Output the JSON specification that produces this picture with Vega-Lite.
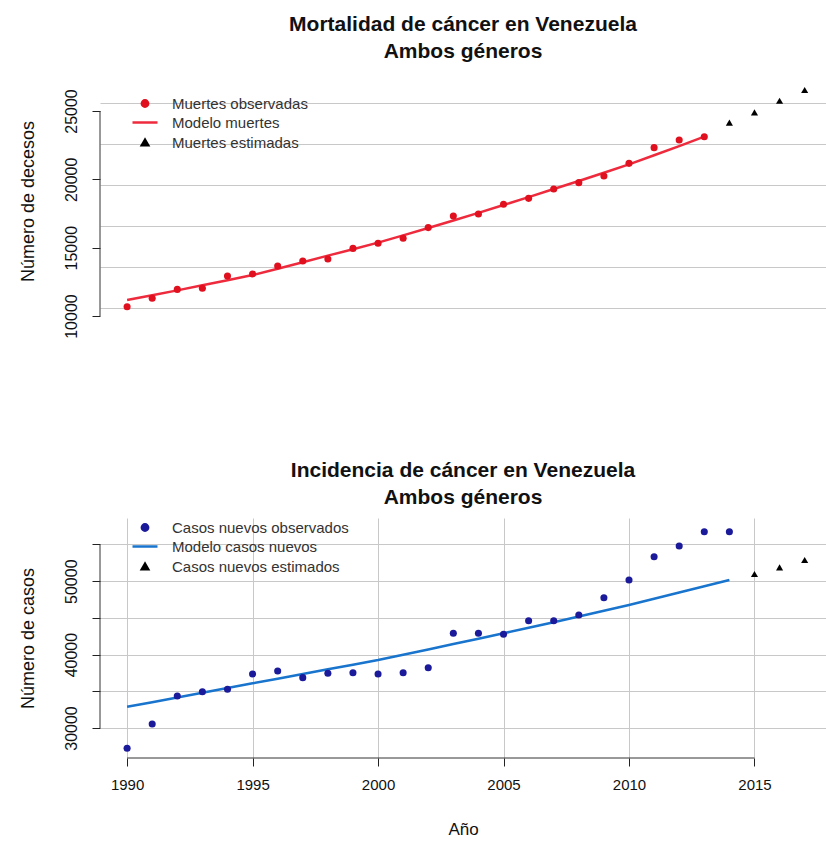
{
  "$schema": "https://vega.github.io/schema/vega-lite/v6.json",
  "background": "white",
  "padding": {"left": 18, "top": 14, "right": 0, "bottom": 0},
  "config": {
    "font": "Liberation Sans",
    "view": {"stroke": null},
    "axis": {"gridColor": "#c8c8c8", "gridWidth": 1, "gridOpacity": 1, "tickColor": "#222", "tickSize": 8, "tickWidth": 1, "labelColor": "#111", "labelFontSize": 15, "titleFontSize": 18, "titleFontWeight": "normal", "titleColor": "#111", "domain": false},
    "title": {"fontSize": 21, "fontWeight": "bold", "color": "#111", "lineHeight": 27, "anchor": "middle", "frame": "group", "baseline": "bottom"},
    "legend": {"padding": 0, "labelFontSize": 15, "labelColor": "#333", "rowPadding": 3, "labelLimit": 400}
  },
  "datasets": {
    "mortalidad": [
      {"anio": 1990, "valor": 10680, "serie": "Muertes observadas"},
      {"anio": 1991, "valor": 11300, "serie": "Muertes observadas"},
      {"anio": 1992, "valor": 11950, "serie": "Muertes observadas"},
      {"anio": 1993, "valor": 12030, "serie": "Muertes observadas"},
      {"anio": 1994, "valor": 12930, "serie": "Muertes observadas"},
      {"anio": 1995, "valor": 13080, "serie": "Muertes observadas"},
      {"anio": 1996, "valor": 13660, "serie": "Muertes observadas"},
      {"anio": 1997, "valor": 14030, "serie": "Muertes observadas"},
      {"anio": 1998, "valor": 14170, "serie": "Muertes observadas"},
      {"anio": 1999, "valor": 14950, "serie": "Muertes observadas"},
      {"anio": 2000, "valor": 15320, "serie": "Muertes observadas"},
      {"anio": 2001, "valor": 15690, "serie": "Muertes observadas"},
      {"anio": 2002, "valor": 16470, "serie": "Muertes observadas"},
      {"anio": 2003, "valor": 17320, "serie": "Muertes observadas"},
      {"anio": 2004, "valor": 17470, "serie": "Muertes observadas"},
      {"anio": 2005, "valor": 18180, "serie": "Muertes observadas"},
      {"anio": 2006, "valor": 18610, "serie": "Muertes observadas"},
      {"anio": 2007, "valor": 19290, "serie": "Muertes observadas"},
      {"anio": 2008, "valor": 19760, "serie": "Muertes observadas"},
      {"anio": 2009, "valor": 20250, "serie": "Muertes observadas"},
      {"anio": 2010, "valor": 21170, "serie": "Muertes observadas"},
      {"anio": 2011, "valor": 22320, "serie": "Muertes observadas"},
      {"anio": 2012, "valor": 22880, "serie": "Muertes observadas"},
      {"anio": 2013, "valor": 23120, "serie": "Muertes observadas"},
      {"anio": 1990, "valor": 11170, "serie": "Modelo muertes"},
      {"anio": 1991, "valor": 11520, "serie": "Modelo muertes"},
      {"anio": 1992, "valor": 11880, "serie": "Modelo muertes"},
      {"anio": 1993, "valor": 12250, "serie": "Modelo muertes"},
      {"anio": 1994, "valor": 12620, "serie": "Modelo muertes"},
      {"anio": 1995, "valor": 13000, "serie": "Modelo muertes"},
      {"anio": 1996, "valor": 13460, "serie": "Modelo muertes"},
      {"anio": 1997, "valor": 13930, "serie": "Modelo muertes"},
      {"anio": 1998, "valor": 14420, "serie": "Modelo muertes"},
      {"anio": 1999, "valor": 14890, "serie": "Modelo muertes"},
      {"anio": 2000, "valor": 15370, "serie": "Modelo muertes"},
      {"anio": 2001, "valor": 15900, "serie": "Modelo muertes"},
      {"anio": 2002, "valor": 16440, "serie": "Modelo muertes"},
      {"anio": 2003, "valor": 16990, "serie": "Modelo muertes"},
      {"anio": 2004, "valor": 17550, "serie": "Modelo muertes"},
      {"anio": 2005, "valor": 18120, "serie": "Modelo muertes"},
      {"anio": 2006, "valor": 18700, "serie": "Modelo muertes"},
      {"anio": 2007, "valor": 19290, "serie": "Modelo muertes"},
      {"anio": 2008, "valor": 19880, "serie": "Modelo muertes"},
      {"anio": 2009, "valor": 20480, "serie": "Modelo muertes"},
      {"anio": 2010, "valor": 21100, "serie": "Modelo muertes"},
      {"anio": 2011, "valor": 21760, "serie": "Modelo muertes"},
      {"anio": 2012, "valor": 22430, "serie": "Modelo muertes"},
      {"anio": 2013, "valor": 23120, "serie": "Modelo muertes"},
      {"anio": 2014, "valor": 24150, "serie": "Muertes estimadas"},
      {"anio": 2015, "valor": 24900, "serie": "Muertes estimadas"},
      {"anio": 2016, "valor": 25750, "serie": "Muertes estimadas"},
      {"anio": 2017, "valor": 26540, "serie": "Muertes estimadas"}
    ],
    "incidencia": [
      {"anio": 1990, "valor": 27230, "serie": "Casos nuevos observados"},
      {"anio": 1991, "valor": 30550, "serie": "Casos nuevos observados"},
      {"anio": 1992, "valor": 34360, "serie": "Casos nuevos observados"},
      {"anio": 1993, "valor": 34950, "serie": "Casos nuevos observados"},
      {"anio": 1994, "valor": 35270, "serie": "Casos nuevos observados"},
      {"anio": 1995, "valor": 37360, "serie": "Casos nuevos observados"},
      {"anio": 1996, "valor": 37770, "serie": "Casos nuevos observados"},
      {"anio": 1997, "valor": 36860, "serie": "Casos nuevos observados"},
      {"anio": 1998, "valor": 37450, "serie": "Casos nuevos observados"},
      {"anio": 1999, "valor": 37530, "serie": "Casos nuevos observados"},
      {"anio": 2000, "valor": 37360, "serie": "Casos nuevos observados"},
      {"anio": 2001, "valor": 37530, "serie": "Casos nuevos observados"},
      {"anio": 2002, "valor": 38220, "serie": "Casos nuevos observados"},
      {"anio": 2003, "valor": 42900, "serie": "Casos nuevos observados"},
      {"anio": 2004, "valor": 42900, "serie": "Casos nuevos observados"},
      {"anio": 2005, "valor": 42770, "serie": "Casos nuevos observados"},
      {"anio": 2006, "valor": 44620, "serie": "Casos nuevos observados"},
      {"anio": 2007, "valor": 44620, "serie": "Casos nuevos observados"},
      {"anio": 2008, "valor": 45400, "serie": "Casos nuevos observados"},
      {"anio": 2009, "valor": 47750, "serie": "Casos nuevos observados"},
      {"anio": 2010, "valor": 50160, "serie": "Casos nuevos observados"},
      {"anio": 2011, "valor": 53340, "serie": "Casos nuevos observados"},
      {"anio": 2012, "valor": 54800, "serie": "Casos nuevos observados"},
      {"anio": 2013, "valor": 56740, "serie": "Casos nuevos observados"},
      {"anio": 2014, "valor": 56740, "serie": "Casos nuevos observados"},
      {"anio": 1990, "valor": 32900, "serie": "Modelo casos nuevos"},
      {"anio": 1991, "valor": 33520, "serie": "Modelo casos nuevos"},
      {"anio": 1992, "valor": 34150, "serie": "Modelo casos nuevos"},
      {"anio": 1993, "valor": 34790, "serie": "Modelo casos nuevos"},
      {"anio": 1994, "valor": 35440, "serie": "Modelo casos nuevos"},
      {"anio": 1995, "valor": 36090, "serie": "Modelo casos nuevos"},
      {"anio": 1996, "valor": 36720, "serie": "Modelo casos nuevos"},
      {"anio": 1997, "valor": 37360, "serie": "Modelo casos nuevos"},
      {"anio": 1998, "valor": 38000, "serie": "Modelo casos nuevos"},
      {"anio": 1999, "valor": 38630, "serie": "Modelo casos nuevos"},
      {"anio": 2000, "valor": 39260, "serie": "Modelo casos nuevos"},
      {"anio": 2001, "valor": 39980, "serie": "Modelo casos nuevos"},
      {"anio": 2002, "valor": 40700, "serie": "Modelo casos nuevos"},
      {"anio": 2003, "valor": 41440, "serie": "Modelo casos nuevos"},
      {"anio": 2004, "valor": 42170, "serie": "Modelo casos nuevos"},
      {"anio": 2005, "valor": 42900, "serie": "Modelo casos nuevos"},
      {"anio": 2006, "valor": 43660, "serie": "Modelo casos nuevos"},
      {"anio": 2007, "valor": 44420, "serie": "Modelo casos nuevos"},
      {"anio": 2008, "valor": 45200, "serie": "Modelo casos nuevos"},
      {"anio": 2009, "valor": 45980, "serie": "Modelo casos nuevos"},
      {"anio": 2010, "valor": 46760, "serie": "Modelo casos nuevos"},
      {"anio": 2011, "valor": 47600, "serie": "Modelo casos nuevos"},
      {"anio": 2012, "valor": 48450, "serie": "Modelo casos nuevos"},
      {"anio": 2013, "valor": 49300, "serie": "Modelo casos nuevos"},
      {"anio": 2014, "valor": 50160, "serie": "Modelo casos nuevos"},
      {"anio": 2015, "valor": 50980, "serie": "Casos nuevos estimados"},
      {"anio": 2016, "valor": 51890, "serie": "Casos nuevos estimados"},
      {"anio": 2017, "valor": 52890, "serie": "Casos nuevos estimados"}
    ]
  },
  "spacing": 196,
  "bounds": "flush",
  "resolve": {
    "scale": {"color": "independent", "shape": "independent"},
    "legend": {"color": "independent", "shape": "independent"}
  },
  "vconcat": [
    {
      "width": 726,
      "height": 242,
      "title": {"text": ["Mortalidad de cáncer en Venezuela", "Ambos géneros"], "offset": 18},
      "data": {"name": "mortalidad"},
      "resolve": {"axis": {"y": "independent"}},
      "layer": [
        {
          "transform": [{"filter": "datum.serie === 'Modelo muertes'"}],
          "mark": {"type": "line", "strokeWidth": 2.5},
          "encoding": {
            "x": {"field": "anio", "type": "quantitative", "scale": {"domain": [1988.92, 2017.85], "nice": false, "zero": false},
                  "axis": {"values": [1990, 1995, 2000, 2005, 2010, 2015], "grid": true, "labels": false, "ticks": false, "domain": false, "title": null}},
            "y": {"field": "valor", "type": "quantitative", "scale": {"domain": [9565, 27268], "nice": false, "zero": false},
                  "axis": {"orient": "left", "values": [10000, 15000, 20000, 25000], "format": "d", "grid": false, "labelAngle": -90, "labelAlign": "center", "labelBaseline": "alphabetic", "labelPadding": 16, "labelFontSize": 16, "labelOverlap": false, "labelFlush": false, "title": "Número de decesos", "titlePadding": 26}},
            "color": {"field": "serie", "type": "nominal",
                      "scale": {"domain": ["Muertes observadas", "Modelo muertes", "Muertes estimadas"], "range": ["#E0101E", "#EE2A3C", "#000000"]},
                      "legend": {"title": null, "orient": "none", "legendX": 37.5, "legendY": 16, "symbolSize": 40, "labelOffset": 19.5,
                                 "encode": {"symbols": {"update": {"size": {"signal": "datum.value === 'Modelo muertes' ? 625 : 40"}, "stroke": {"signal": "datum.value === 'Modelo muertes' ? '#EE2A3C' : 'transparent'"}, "strokeWidth": {"value": 2.5}, "opacity": {"value": 1}}}}}}
          }
        },
        {
          "transform": [{"filter": "datum.serie !== 'Modelo muertes'"}],
          "mark": {"type": "point", "filled": true, "opacity": 1, "size": 50},
          "encoding": {
            "x": {"field": "anio", "type": "quantitative"},
            "y": {"field": "valor", "type": "quantitative",
                  "axis": {"orient": "right", "values": [10585, 13585, 16585, 19585, 22585, 25585], "grid": true, "labels": false, "ticks": false, "domain": false, "title": null}},
            "color": {"field": "serie", "type": "nominal",
                      "scale": {"domain": ["Muertes observadas", "Modelo muertes", "Muertes estimadas"], "range": ["#E0101E", "#EE2A3C", "#000000"]},
                      "legend": {"title": null, "orient": "none", "legendX": 37.5, "legendY": 16, "symbolSize": 40, "labelOffset": 19.5,
                                 "encode": {"symbols": {"update": {"size": {"signal": "datum.value === 'Modelo muertes' ? 625 : 40"}, "stroke": {"signal": "datum.value === 'Modelo muertes' ? '#EE2A3C' : 'transparent'"}, "strokeWidth": {"value": 2.5}, "opacity": {"value": 1}}}}}},
            "shape": {"field": "serie", "type": "nominal",
                      "scale": {"domain": ["Muertes observadas", "Modelo muertes", "Muertes estimadas"], "range": ["circle", "stroke", "triangle-up"]},
                      "legend": {"title": null, "orient": "none", "legendX": 37.5, "legendY": 16, "symbolSize": 40, "labelOffset": 19.5,
                                 "encode": {"symbols": {"update": {"size": {"signal": "datum.value === 'Modelo muertes' ? 625 : 40"}, "stroke": {"signal": "datum.value === 'Modelo muertes' ? '#EE2A3C' : 'transparent'"}, "strokeWidth": {"value": 2.5}, "opacity": {"value": 1}}}}}}
          }
        },
        {
          "data": {"values": [{}]},
          "mark": {"type": "rule", "color": "#333", "strokeWidth": 1},
          "encoding": {
            "x": {"datum": 1988.92, "type": "quantitative", "axis": null},
            "y": {"datum": 10000, "type": "quantitative", "axis": null},
            "y2": {"datum": 25000}
          }
        }
      ]
    },
    {
      "width": 726,
      "height": 240,
      "title": {"text": ["Incidencia de cáncer en Venezuela", "Ambos géneros"], "offset": 10},
      "data": {"name": "incidencia"},
      "layer": [
        {
          "transform": [{"filter": "datum.serie === 'Modelo casos nuevos'"}],
          "mark": {"type": "line", "strokeWidth": 2.5},
          "encoding": {
            "x": {"field": "anio", "type": "quantitative", "scale": {"domain": [1988.92, 2017.85], "nice": false, "zero": false},
                  "axis": {"values": [1990, 1995, 2000, 2005, 2010, 2015], "format": "d", "grid": true, "labels": true, "ticks": true, "domain": false, "labelPadding": 11, "labelFlush": false, "labelOverlap": false, "title": "Año", "titleFontSize": 17, "titlePadding": 29}},
            "y": {"field": "valor", "type": "quantitative", "scale": {"domain": [25913, 58610], "nice": false, "zero": false},
                  "axis": {"orient": "left", "values": [30000, 35000, 40000, 45000, 50000, 55000], "format": "d", "labelExpr": "datum.value % 10000 === 0 ? datum.label : ''", "grid": true, "labelAngle": -90, "labelAlign": "center", "labelBaseline": "alphabetic", "labelPadding": 16, "labelFontSize": 16, "labelOverlap": false, "labelFlush": false, "title": "Número de casos", "titlePadding": 26}},
            "color": {"field": "serie", "type": "nominal",
                      "scale": {"domain": ["Casos nuevos observados", "Modelo casos nuevos", "Casos nuevos estimados"], "range": ["#1A1A9A", "#1874CD", "#000000"]},
                      "legend": {"title": null, "orient": "none", "legendX": 37.5, "legendY": 2, "symbolSize": 40, "labelOffset": 19.5,
                                 "encode": {"symbols": {"update": {"size": {"signal": "datum.value === 'Modelo casos nuevos' ? 625 : 40"}, "stroke": {"signal": "datum.value === 'Modelo casos nuevos' ? '#1874CD' : 'transparent'"}, "strokeWidth": {"value": 2.5}, "opacity": {"value": 1}}}}}}
          }
        },
        {
          "transform": [{"filter": "datum.serie !== 'Modelo casos nuevos'"}],
          "mark": {"type": "point", "filled": true, "opacity": 1, "size": 50},
          "encoding": {
            "x": {"field": "anio", "type": "quantitative"},
            "y": {"field": "valor", "type": "quantitative"},
            "color": {"field": "serie", "type": "nominal",
                      "scale": {"domain": ["Casos nuevos observados", "Modelo casos nuevos", "Casos nuevos estimados"], "range": ["#1A1A9A", "#1874CD", "#000000"]},
                      "legend": {"title": null, "orient": "none", "legendX": 37.5, "legendY": 2, "symbolSize": 40, "labelOffset": 19.5,
                                 "encode": {"symbols": {"update": {"size": {"signal": "datum.value === 'Modelo casos nuevos' ? 625 : 40"}, "stroke": {"signal": "datum.value === 'Modelo casos nuevos' ? '#1874CD' : 'transparent'"}, "strokeWidth": {"value": 2.5}, "opacity": {"value": 1}}}}}},
            "shape": {"field": "serie", "type": "nominal",
                      "scale": {"domain": ["Casos nuevos observados", "Modelo casos nuevos", "Casos nuevos estimados"], "range": ["circle", "stroke", "triangle-up"]},
                      "legend": {"title": null, "orient": "none", "legendX": 37.5, "legendY": 2, "symbolSize": 40, "labelOffset": 19.5,
                                 "encode": {"symbols": {"update": {"size": {"signal": "datum.value === 'Modelo casos nuevos' ? 625 : 40"}, "stroke": {"signal": "datum.value === 'Modelo casos nuevos' ? '#1874CD' : 'transparent'"}, "strokeWidth": {"value": 2.5}, "opacity": {"value": 1}}}}}}
          }
        },
        {
          "data": {"values": [{}]},
          "mark": {"type": "rule", "color": "#333", "strokeWidth": 1},
          "encoding": {
            "x": {"datum": 1988.92, "type": "quantitative"},
            "y": {"datum": 30000, "type": "quantitative"},
            "y2": {"datum": 55000}
          }
        },
        {
          "data": {"values": [{}]},
          "mark": {"type": "rule", "color": "#333", "strokeWidth": 1},
          "encoding": {
            "x": {"datum": 1990, "type": "quantitative"},
            "x2": {"datum": 2015},
            "y": {"datum": 25913, "type": "quantitative"}
          }
        }
      ]
    }
  ]
}
